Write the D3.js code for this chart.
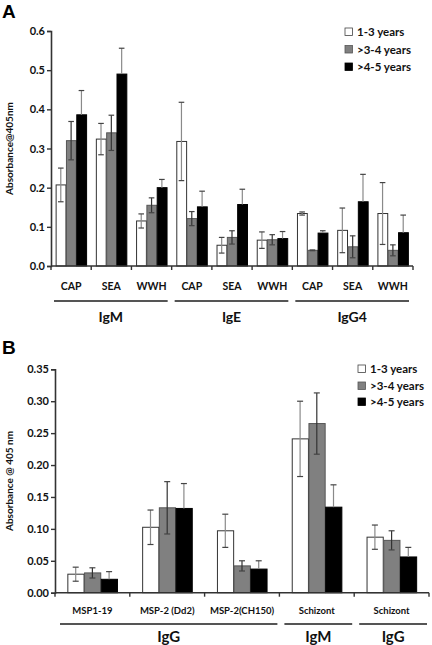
<!DOCTYPE html>
<html><head><meta charset="utf-8">
<script src="https://cdn.jsdelivr.net/npm/d3@7"></script>
<style>body{margin:0;background:#fff}svg{display:block;font-family:Lato,"Open Sans",sans-serif}</style>
</head><body><svg id="c" width="432" height="645"></svg>
<script>
const seriesNames = ["1-3 years", ">3-4 years", ">4-5 years"];
// Panel A
const catsA = ["CAP","SEA","WWH","CAP","SEA","WWH","CAP","SEA","WWH"];
const groupsA = [{name:"IgM",from:0,to:2},{name:"IgE",from:3,to:5},{name:"IgG4",from:6,to:8}];
const a13 = [0.207,0.324,0.115,0.318,0.053,0.066,0.134,0.091,0.134];
const a34 = [0.320,0.340,0.155,0.121,0.073,0.067,0.040,0.049,0.040];
const a45 = [0.386,0.490,0.200,0.151,0.157,0.070,0.084,0.164,0.085];
const e13A = [0.043,0.040,0.018,0.100,0.020,0.021,0.004,0.057,0.079];
const e34A = [0.049,0.045,0.019,0.018,0.017,0.013,0.001,0.028,0.014];
const e45A = [0.062,0.066,0.021,0.040,0.039,0.018,0.006,0.070,0.045];
const ticksA = [0,0.1,0.2,0.3,0.4,0.5,0.6];
// Panel B
const catsB = ["MSP1-19","MSP-2 (Dd2)","MSP-2(CH150)","Schizont","Schizont"];
const groupsB = [{name:"IgG",from:0,to:2},{name:"IgM",from:3,to:3},{name:"IgG",from:4,to:4}];
const b13 = [0.029,0.1025,0.097,0.241,0.087];
const b34 = [0.031,0.133,0.042,0.265,0.082];
const b45 = [0.021,0.132,0.037,0.134,0.056];
const e13B = [0.011,0.027,0.026,0.059,0.019];
const e34B = [0.008,0.041,0.008,0.048,0.015];
const e45B = [0.012,0.039,0.013,0.035,0.015];
const ticksB = [0,0.05,0.10,0.15,0.20,0.25,0.30,0.35];

const fills = ["#ffffff","#808080","#000000"];
const strokes = ["#333333","#555555","#000000"];
const errCols = ["#8a8a8a","#333333","#8a8a8a"];
const svg = d3.select("#c");

function panel(o){
  const g = svg.append("g");
  const x = d3.scaleBand().domain(d3.range(o.cats.length)).range(o.xr).paddingInner(o.pad).paddingOuter(o.pad/2);
  const xs = d3.scaleBand().domain([0,1,2]).range([0,x.bandwidth()]);
  const y = d3.scaleLinear().domain(o.yd).range(o.yr);
  const vals = [o.v13,o.v34,o.v45], errs=[o.e13,o.e34,o.e45];
  vals.forEach((arr,s)=>{
    g.selectAll(null).data(arr).join("rect")
      .attr("x",(d,i)=>x(i)+xs(s)+0.5).attr("width",xs.bandwidth()-0.5)
      .attr("y",d=>y(d)).attr("height",d=>y(0)-y(d))
      .attr("fill",fills[s]).attr("stroke",strokes[s]).attr("stroke-width",1);
  });
  vals.forEach((arr,s)=>{
    arr.forEach((d,i)=>{
      const cx = x(i)+xs(s)+xs.bandwidth()/2;
      const e = errs[s][i];
      const lo = s===2 ? d : Math.max(0,d-e);
      g.append("line").attr("x1",cx).attr("x2",cx).attr("y1",y(d+e)).attr("y2",y(lo))
        .attr("stroke",errCols[s]).attr("stroke-width",1.2);
      const capsAt = s===2 ? [d+e] : [d+e,d-e];
      capsAt.forEach(v=>{ if(v<=0) return;
        g.append("line").attr("x1",cx-o.cap).attr("x2",cx+o.cap).attr("y1",y(v)).attr("y2",y(v))
          .attr("stroke","#444").attr("stroke-width",1.2);});
    });
  });
  const ya = d3.axisLeft(y).tickValues(o.ticks).tickFormat(d3.format(o.fmt)).tickSize(4);
  const yg = g.append("g").attr("transform",`translate(${o.xr[0]},0)`).call(ya);
  yg.select(".domain").attr("stroke","#333").attr("stroke-width",1.6);
  yg.selectAll(".tick line").attr("stroke","#333").attr("stroke-width",1.4);
  yg.selectAll("text").attr("font-size",o.tickFs).attr("font-weight","bold").attr("fill","#111").attr("x",-6).attr("font-family","Lato");
  g.append("line").attr("x1",o.xr[0]).attr("x2",o.xr[1]).attr("y1",y(0)).attr("y2",y(0)).attr("stroke","#333").attr("stroke-width",1.6);
  const step = x.step();
  d3.range(o.cats.length+1).forEach(i=>{
    const xx = o.xr[0]+i*step;
    g.append("line").attr("x1",xx).attr("x2",xx).attr("y1",y(0)).attr("y2",y(0)+4).attr("stroke","#333").attr("stroke-width",1.4);
  });
  g.selectAll(null).data(o.cats).join("text")
    .attr("x",(d,i)=>x(i)+x.bandwidth()/2).attr("y",o.catY)
    .attr("text-anchor","middle").attr("font-size",o.catFs).attr("font-weight","bold").attr("fill","#111").text(d=>d);
  o.groups.forEach(gr=>{
    const x1 = o.xr[0]+gr.from*step+o.gl[0], x2 = o.xr[0]+(gr.to+1)*step-o.gl[1];
    g.append("line").attr("x1",x1).attr("x2",x2).attr("y1",o.lineY).attr("y2",o.lineY).attr("stroke","#555").attr("stroke-width",2);
    g.append("text").attr("x",(x1+x2)/2).attr("y",o.grpY).attr("text-anchor","middle")
      .attr("font-size",o.grpFs).attr("font-weight","bold").attr("fill","#111").text(gr.name);
  });
  g.append("text").attr("transform",`translate(${o.titleX},${(o.yr[0]+o.yr[1])/2}) rotate(-90)`)
    .attr("text-anchor","middle").attr("font-size",10).attr("font-weight","bold").attr("fill","#111").text(o.title);
  seriesNames.forEach((n,s)=>{
    const ly = o.legY[s];
    g.append("rect").attr("x",o.legX).attr("y",ly-4).attr("width",7.5).attr("height",7.5)
      .attr("fill",fills[s]).attr("stroke",s===0?"#444":strokes[s]).attr("stroke-width",0.8);
    g.append("text").attr("x",o.legX+12).attr("y",ly+4).attr("font-size",11.5).attr("font-weight","bold").attr("fill","#111").text(n);
  });
  g.append("text").attr("x",2).attr("y",o.labY).attr("font-size",19).attr("font-weight","bold").attr("fill","#000")
    .attr("font-family","'Liberation Sans',Arial,sans-serif").text(o.label);
}

panel({cats:catsA,groups:groupsA,v13:a13,v34:a34,v45:a45,e13:e13A,e34:e34A,e45:e45A,ticks:ticksA,fmt:".1f",
  xr:[51,413],yr:[266,31],yd:[0,0.6],pad:0.23,cap:2.8,tickFs:11,catFs:10.5,catY:289.5,lineY:301,gl:[3,4],
  grpY:322,grpFs:14,title:"Absorbance@405nm",titleX:13,legX:345,legY:[32,49.5,67],label:"A",labY:18});
panel({cats:catsB,groups:groupsB,v13:b13,v34:b34,v45:b45,e13:e13B,e34:e34B,e45:e45B,ticks:ticksB,fmt:".2f",
  xr:[55,429],yr:[592.7,369.3],yd:[0,0.35],pad:0.33,cap:3,tickFs:11,catFs:9.5,catY:613.5,lineY:624,gl:[5,2],
  grpY:642,grpFs:15,title:"Absorbance @ 405 nm",titleX:13,legX:358,legY:[369,386,402],label:"B",labY:354});
</script></body></html>
